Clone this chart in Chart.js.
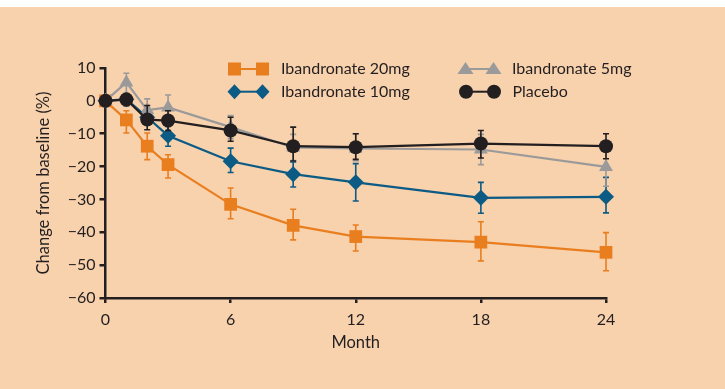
<!DOCTYPE html>
<html>
<head>
<meta charset="utf-8">
<script src="https://cdn.jsdelivr.net/npm/chart.js"></script>
<style>
  html, body { margin: 0; padding: 0; background: #fff; }
  #wrap { position: absolute; left: 0; top: 7px; width: 725px; height: 382px; background: #f8d1ad; }
</style>
</head>
<body>
<div id="wrap"><canvas id="chart" width="725" height="382"></canvas></div>
<script>
// Months on the x axis
const months = [0, 1, 2, 3, 6, 9, 12, 18, 24];
const monthTicks = [0, 6, 12, 18, 24];

// Mean change from baseline (%)
const ib20 = [0, -5.8, -13.8, -19.4, -31.5, -37.9, -41.3, -43.0, -46.1];
const ib10 = [0, 0.5, -5.0, -10.6, -18.4, -22.3, -24.8, -29.5, -29.2];
const ib5 = [0, 5.6, -2.8, -2.0, -8.0, -14.2, -14.5, -14.8, -20.1];
const placebo = [0, 0.4, -5.7, -6.0, -9.0, -13.8, -14.1, -13.0, -13.8];

// Error bar ends (low / high)
const ib20Lo = [null, -9.8, -17.9, -23.5, -35.9, -42.3, -45.7, -48.7, -51.7];
const ib20Hi = [null, -3.0, -9.8, -16.4, -26.5, -33.0, -37.8, -36.8, -40.1];
const ib10Lo = [null, null, null, -13.8, -21.8, -26.2, -30.5, -34.2, -34.1];
const ib10Hi = [null, null, null, -7.8, -14.4, -18.6, -19.1, -24.8, -23.3];
const ib5Lo = [null, 2.0, -6.0, -5.5, -11.5, -18.2, -18.2, -19.4, -26.0];
const ib5Hi = [null, 8.4, 0.6, 1.8, -4.5, -10.2, -10.0, -10.2, -14.2];
const placeboLo = [null, -1.5, -8.8, -9.0, -12.3, -18.3, -17.8, -17.4, -17.6];
const placeboHi = [null, 2.2, -1.4, -3.0, -5.0, -8.0, -10.0, -9.0, -10.0];

const ORANGE = "#e97e1f";
const BLUE = "#0b5b85";
const GREY = "#9a9a9a";
const DARK = "#231f20";
const FONT = "Lato, 'Open Sans', sans-serif";

const toPoints = (vals) => vals.map((v, i) => ({ x: months[i], y: v }));

// vertical error bars with caps, drawn just under each dataset
const errorBars = {
  id: "errorBars",
  beforeDatasetDraw(chart, args) {
    const ds = chart.data.datasets[args.index];
    if (!ds.errLo) return;
    const { ctx, scales } = chart;
    ctx.save();
    ctx.strokeStyle = ds.borderColor;
    ctx.lineWidth = 1.6;
    ds.errLo.forEach((lo, i) => {
      if (lo === null) return;
      const px = scales.x.getPixelForValue(months[i]);
      const y1 = scales.y.getPixelForValue(lo);
      const y2 = scales.y.getPixelForValue(ds.errHi[i]);
      ctx.beginPath();
      ctx.moveTo(px, y1); ctx.lineTo(px, y2);
      ctx.moveTo(px - 3, y1); ctx.lineTo(px + 3, y1);
      ctx.moveTo(px - 3, y2); ctx.lineTo(px + 3, y2);
      ctx.stroke();
    });
    ctx.restore();
  }
};

function shape(ctx, kind, x, y) {
  ctx.beginPath();
  if (kind === "rect") {
    ctx.rect(x - 6.5, y - 6.5, 13, 13);
  } else if (kind === "rectRot") {
    ctx.moveTo(x, y - 7.5); ctx.lineTo(x + 7, y); ctx.lineTo(x, y + 7.5); ctx.lineTo(x - 7, y);
    ctx.closePath();
  } else if (kind === "triangle") {
    ctx.moveTo(x, y - 7); ctx.lineTo(x + 8, y + 5); ctx.lineTo(x - 8, y + 5);
    ctx.closePath();
  } else {
    ctx.arc(x, y, 7, 0, Math.PI * 2);
  }
  ctx.fill();
}

// two column legend inside the plot
const legendBox = {
  id: "legendBox",
  afterDraw(chart) {
    const ctx = chart.ctx;
    const items = [
      { text: "Ibandronate 20mg", color: ORANGE, kind: "rect", x: 234.5, y: 62 },
      { text: "Ibandronate 10mg", color: BLUE, kind: "rectRot", x: 234.5, y: 84.7 },
      { text: "Ibandronate 5mg", color: GREY, kind: "triangle", x: 465.5, y: 62 },
      { text: "Placebo", color: DARK, kind: "circle", x: 466, y: 84.7 }
    ];
    ctx.save();
    items.forEach((it) => {
      ctx.strokeStyle = it.color;
      ctx.fillStyle = it.color;
      ctx.lineWidth = 2;
      ctx.beginPath();
      ctx.moveTo(it.x, it.y); ctx.lineTo(it.x + 28, it.y);
      ctx.stroke();
      shape(ctx, it.kind, it.x, it.y);
      shape(ctx, it.kind, it.x + 28, it.y);
      ctx.fillStyle = DARK;
      ctx.font = "16px " + FONT;
      ctx.textBaseline = "middle";
      ctx.textAlign = "left";
      ctx.fillText(it.text, it.x + 46.5, it.y);
    });
    ctx.restore();
  }
};

function series(label, vals, lo, hi, color, style, radius, order) {
  return {
    label: label,
    data: toPoints(vals),
    errLo: lo,
    errHi: hi,
    borderColor: color,
    backgroundColor: color,
    borderWidth: 2.2,
    pointStyle: style,
    pointRadius: radius,
    pointHoverRadius: radius,
    pointBorderWidth: 0,
    tension: 0,
    clip: false,
    order: order
  };
}

document.addEventListener("DOMContentLoaded", () => {
  const ctx = document.getElementById("chart").getContext("2d");

  new Chart(ctx, {
    type: "line",
    data: {
      datasets: [
        series("Ibandronate 20mg", ib20, ib20Lo, ib20Hi, ORANGE, "rect", 9, 4),
        series("Ibandronate 10mg", ib10, ib10Lo, ib10Hi, BLUE, "rectRot", 8, 3),
        series("Ibandronate 5mg", ib5, ib5Lo, ib5Hi, GREY, "triangle", 8, 2),
        series("Placebo", placebo, placeboLo, placeboHi, DARK, "circle", 7, 1)
      ]
    },
    options: {
      responsive: false,
      animation: false,
      layout: { padding: { top: 61, right: 119, left: 34, bottom: 0 } },
      plugins: { legend: { display: false }, tooltip: { enabled: false } },
      scales: {
        x: {
          type: "linear",
          min: 0,
          max: 24,
          afterFit: (s) => { s.height = 91; },
          afterBuildTicks: (s) => { s.ticks = monthTicks.map((v) => ({ value: v })); },
          grid: { drawOnChartArea: false, drawTicks: true, tickLength: 5, color: DARK, lineWidth: 2.5 },
          border: { display: true, color: DARK, width: 2.5 },
          ticks: { color: DARK, padding: 7, maxRotation: 0, font: { family: FONT, size: 16 } },
          title: { display: true, text: "Month", color: DARK, padding: { top: 0, bottom: 36 }, font: { family: FONT, size: 16.5 } }
        },
        y: {
          min: -60,
          max: 10,
          afterFit: (s) => { s.width = 71.5; },
          grid: { drawOnChartArea: false, drawTicks: true, tickLength: 6, color: DARK, lineWidth: 2.5 },
          border: { display: true, color: DARK, width: 2.5 },
          ticks: {
            stepSize: 10,
            color: DARK,
            padding: 4,
            font: { family: FONT, size: 16 },
            callback: (v) => (v < 0 ? "\u2212" + Math.abs(v) : String(v))
          },
          title: { display: true, text: "Change from baseline (%)", color: DARK, padding: 0, font: { family: FONT, size: 16.5 } }
        }
      }
    },
    plugins: [errorBars, legendBox]
  });
});
</script>
</body>
</html>
